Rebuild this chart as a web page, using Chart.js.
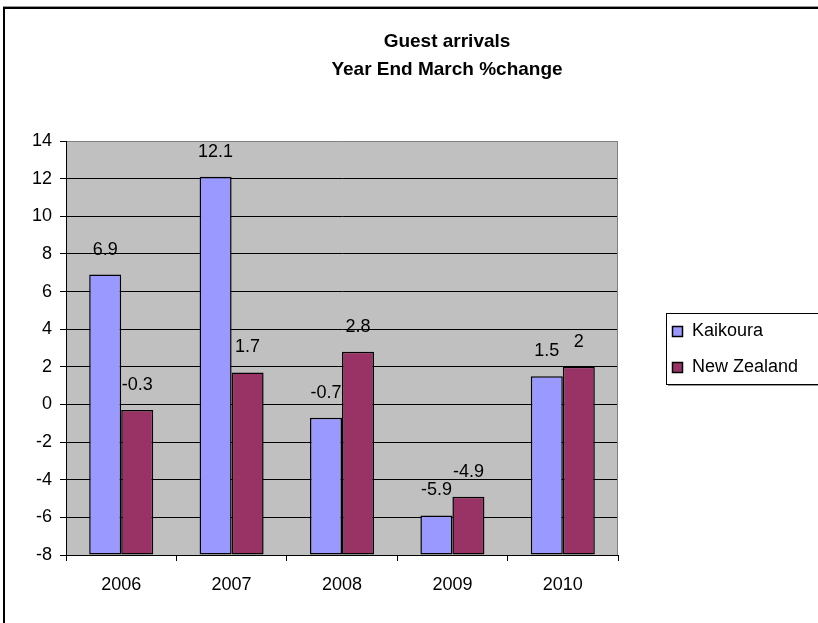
<!DOCTYPE html>
<html>
<head>
<meta charset="utf-8">
<script src="https://cdn.jsdelivr.net/npm/chart.js@4/dist/chart.umd.min.js"></script>
<style>
  html, body { margin: 0; padding: 0; background: #fff; overflow: hidden; }
  canvas { display: block; }
</style>
</head>
<body>
<canvas id="arrivals" width="900" height="640"></canvas>
<script>
// Guest arrivals, year end March, % change
const years = ["2006", "2007", "2008", "2009", "2010"];
const kaikoura = [6.9, 12.1, -0.7, -5.9, 1.5];
const newZealand = [-0.3, 1.7, 2.8, -4.9, 2];
const titleLines = ["Guest arrivals", "Year End March %change"];

const FONT = "Arial, 'Liberation Sans', sans-serif";
const AXIS_MIN = -8;

// plot box in canvas pixels
const PLOT = { left: 66, right: 618, top: 141, bottom: 555 };
const W = 900, H = 640;

// grey plot background, outer frame, title
const backdrop = {
    id: "backdrop",
    beforeDraw(chart) {
        const { ctx, chartArea: a } = chart;
        ctx.save();
        ctx.fillStyle = "#fff";
        ctx.fillRect(0, 0, W, H);
        ctx.fillStyle = "#C0C0C0";
        ctx.fillRect(a.left, a.top, a.right - a.left, a.bottom - a.top);
        // frame round the whole chart
        ctx.fillStyle = "#000";
        ctx.fillRect(3, 7, 2, H);
        ctx.fillRect(3, 7, W, 2);
        ctx.fillStyle = "#9a9a9a";
        ctx.fillRect(3, 6, W, 1);
        // title
        ctx.fillStyle = "#000";
        ctx.font = "bold 19px " + FONT;
        ctx.textAlign = "center";
        ctx.textBaseline = "middle";
        ctx.fillText(titleLines[0], 447, 42);
        ctx.fillText(titleLines[1], 447, 70);
        ctx.restore();
    },
    beforeDatasetsDraw(chart) {
        const { ctx, chartArea: a } = chart;
        ctx.save();
        ctx.strokeStyle = "#808080";
        ctx.lineWidth = 1;
        ctx.beginPath();
        ctx.moveTo(a.right - 0.5, a.top);
        ctx.lineTo(a.right - 0.5, a.bottom);
        ctx.stroke();
        ctx.restore();
    }
};

// value labels above each bar
const valueLabels = {
    id: "valueLabels",
    afterDatasetsDraw(chart) {
        const ctx = chart.ctx;
        ctx.save();
        ctx.fillStyle = "#000";
        ctx.font = "18px " + FONT;
        ctx.textAlign = "center";
        ctx.textBaseline = "middle";
        chart.data.datasets.forEach((ds, i) => {
            chart.getDatasetMeta(i).data.forEach((bar, j) => {
                ctx.fillText(String(ds.data[j]), bar.x, bar.y - 25);
            });
        });
        ctx.restore();
    }
};

// boxed legend to the right of the plot
const boxLegend = {
    id: "boxLegend",
    afterDraw(chart) {
        const ctx = chart.ctx;
        const x = 666, y = 313, w = 160, h = 71;
        ctx.save();
        ctx.fillStyle = "#fff";
        ctx.fillRect(x, y, w, h);
        ctx.strokeStyle = "#000";
        ctx.lineWidth = 1;
        ctx.strokeRect(x + 0.5, y + 0.5, w, h);
        ctx.fillStyle = "#9a9a9a";
        ctx.fillRect(x + 2, y + h + 1, w, 1);
        ctx.font = "18px " + FONT;
        ctx.textBaseline = "middle";
        chart.data.datasets.forEach((ds, i) => {
            const cy = 331 + i * 36;
            ctx.fillStyle = ds.backgroundColor;
            ctx.fillRect(672, cy - 5, 11, 11);
            ctx.lineWidth = 1.5;
            ctx.strokeRect(672.5, cy - 4.5, 10, 10);
            ctx.fillStyle = "#000";
            ctx.fillText(ds.label, 692, cy);
        });
        ctx.restore();
    }
};

new Chart(document.getElementById("arrivals"), {
    type: "bar",
    data: {
        labels: years,
        datasets: [
            { label: "Kaikoura", data: kaikoura, backgroundColor: "#9999FF" },
            { label: "New Zealand", data: newZealand, backgroundColor: "#993366" }
        ]
    },
    options: {
        responsive: false,
        animation: false,
        devicePixelRatio: 1,
        layout: {
            padding: { top: PLOT.top, right: W - PLOT.right, bottom: 0, left: 0 }
        },
        datasets: {
            bar: {
                base: AXIS_MIN,
                borderColor: "#000",
                borderWidth: 1.5,
                borderSkipped: false,
                categoryPercentage: 0.58,
                barPercentage: 1.0
            }
        },
        plugins: {
            legend: { display: false },
            title: { display: false },
            tooltip: { enabled: false }
        },
        scales: {
            x: {
                offset: true,
                grid: {
                    offset: true,
                    drawOnChartArea: false,
                    drawTicks: true,
                    tickLength: 6,
                    color: "#000"
                },
                border: { color: "#000", width: 1 },
                ticks: { color: "#000", font: { family: FONT, size: 18 }, padding: 13 },
                afterFit(s) { s.height = H - PLOT.bottom; }
            },
            y: {
                min: AXIS_MIN,
                max: 14,
                grid: {
                    color: c => (c.tick && c.tick.value === 14 ? "#808080" : "#000"),
                    tickColor: "#000",
                    tickLength: 6,
                    lineWidth: 1
                },
                border: { color: "#000", width: 1 },
                ticks: {
                    stepSize: 2,
                    color: "#000",
                    padding: 8,
                    font: { family: FONT, size: 18 }
                },
                afterFit(s) { s.width = PLOT.left; }
            }
        }
    },
    plugins: [backdrop, valueLabels, boxLegend]
});
</script>
</body>
</html>
